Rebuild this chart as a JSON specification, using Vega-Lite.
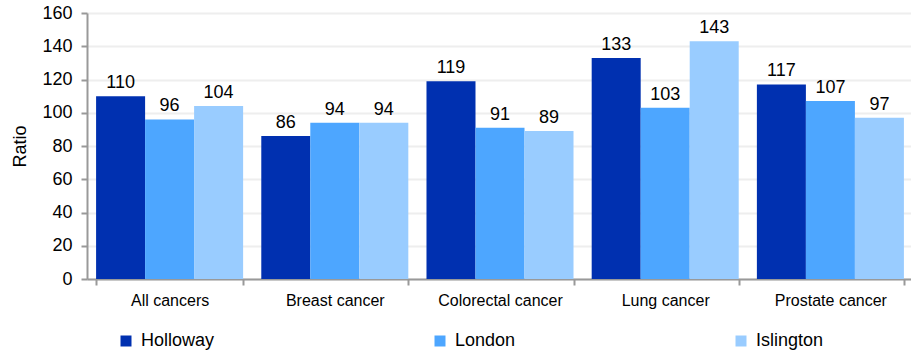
{
  "$schema": "https://vega.github.io/schema/vega-lite/v6.json",
  "autosize": "none",
  "padding": {"left": 87, "top": 13, "right": 0, "bottom": 76},
  "width": 826,
  "height": 266,
  "background": "white",
  "config": {
    "font": "Liberation Sans",
    "view": {"stroke": null},
    "axis": {"labelFont": "Liberation Sans", "titleFont": "Liberation Sans", "labelColor": "#000000", "titleColor": "#000000"}
  },
  "data": {
    "values": [
      {"cancer": "All cancers", "area": "Holloway", "value": 110},
      {"cancer": "All cancers", "area": "London", "value": 96},
      {"cancer": "All cancers", "area": "Islington", "value": 104},
      {"cancer": "Breast cancer", "area": "Holloway", "value": 86},
      {"cancer": "Breast cancer", "area": "London", "value": 94},
      {"cancer": "Breast cancer", "area": "Islington", "value": 94},
      {"cancer": "Colorectal cancer", "area": "Holloway", "value": 119},
      {"cancer": "Colorectal cancer", "area": "London", "value": 91},
      {"cancer": "Colorectal cancer", "area": "Islington", "value": 89},
      {"cancer": "Lung cancer", "area": "Holloway", "value": 133},
      {"cancer": "Lung cancer", "area": "London", "value": 103},
      {"cancer": "Lung cancer", "area": "Islington", "value": 143},
      {"cancer": "Prostate cancer", "area": "Holloway", "value": 117},
      {"cancer": "Prostate cancer", "area": "London", "value": 107},
      {"cancer": "Prostate cancer", "area": "Islington", "value": 97}
    ]
  },
  "encoding": {
    "x": {
      "field": "cancer", "type": "nominal", "sort": null,
      "scale": {"paddingInner": 0.11, "paddingOuter": 0.055},
      "axis": {
        "title": null, "labelAngle": 0, "labelFontSize": 16, "labelPadding": 7,
        "domainColor": "#999999", "domainWidth": 2, "tickColor": "#999999", "tickWidth": 2, "tickSize": 6,
        "tickBand": "extent"
      }
    },
    "xOffset": {"field": "area", "type": "nominal", "sort": ["Holloway", "London", "Islington"]},
    "y": {
      "field": "value", "type": "quantitative",
      "scale": {"domain": [0, 160], "nice": false},
      "axis": {
        "title": "Ratio", "titleFontSize": 18, "titleFontWeight": "normal", "titlePadding": 12,
        "values": [0, 20, 40, 60, 80, 100, 120, 140, 160],
        "labelFontSize": 18, "labelPadding": 9,
        "domainColor": "#999999", "domainWidth": 2, "tickColor": "#999999", "tickWidth": 2, "tickSize": 6,
        "gridColor": "#eeeeee", "gridWidth": 2
      }
    }
  },
  "layer": [
    {
      "mark": {"type": "bar"},
      "encoding": {
        "color": {
          "field": "area", "type": "nominal",
          "scale": {"domain": ["Holloway", "London", "Islington"], "range": ["#0030B0", "#4DA6FF", "#99CCFF"]},
          "legend": {
            "title": null, "orient": "none", "legendX": 30, "legendY": 319,
            "direction": "horizontal", "columns": 3, "columnPadding": 216,
            "symbolType": "square", "symbolSize": 121, "symbolStrokeWidth": 0,
            "labelFontSize": 18, "labelColor": "#000000", "labelOffset": 6
          }
        }
      }
    },
    {
      "mark": {"type": "text", "baseline": "alphabetic", "dy": -8, "fontSize": 18, "color": "#000000"},
      "encoding": {"text": {"field": "value", "type": "quantitative"}}
    }
  ]
}
